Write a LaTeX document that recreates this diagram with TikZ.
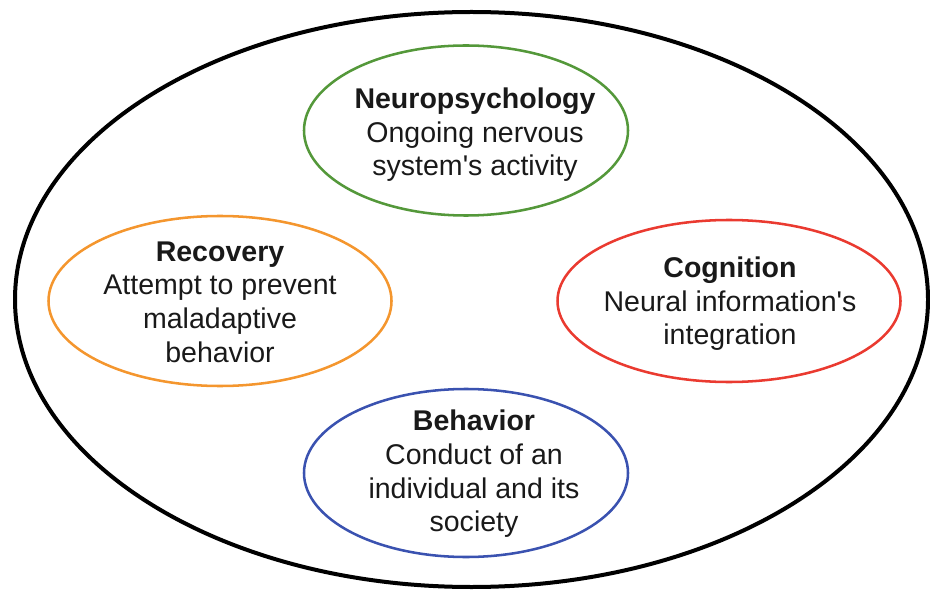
\documentclass[tikz,border=0pt]{standalone}
\usepackage{fontspec}
\setmainfont{Liberation Sans}

\definecolor{ringgreen}{RGB}{84,152,58}
\definecolor{ringorange}{RGB}{244,150,46}
\definecolor{ringred}{RGB}{234,58,48}
\definecolor{ringblue}{RGB}{58,82,176}

\tikzset{every picture/.style={line width=0.75pt}}
\tikzset{
  ring/.style={line width=1.9pt},
  label text/.style={inner sep=0.75pt, align=center, font=\fontsize{21.4}{25.2}\selectfont, text={rgb,255:red,25;green,25;blue,25}}
}

\begin{document}
\begin{tikzpicture}[x=0.75pt,y=0.75pt,yscale=-1,xscale=1]
    \useasboundingbox (0,0) rectangle (930,591); %diagram is 930 wide and 591 high

    %Shape: Ellipse (outer)
    \draw [color=black, line width=3pt] (471.5,299.5) ellipse [x radius=456.5, y radius=287.5];
    %Shape: Ellipse (top)
    \draw [ring, color=ringgreen] (466,130.5) ellipse [x radius=162, y radius=85];
    %Shape: Ellipse (left)
    \draw [ring, color=ringorange] (220,301) ellipse [x radius=171.5, y radius=85];
    %Shape: Ellipse (right)
    \draw [ring, color=ringred] (729,301) ellipse [x radius=171.5, y radius=81];
    %Shape: Ellipse (bottom)
    \draw [ring, color=ringblue] (466,473) ellipse [x radius=162, y radius=84];

    % Text Node
    \draw (475,135) node [label text] (neuro) {\textbf{Neuropsychology}\\Ongoing nervous\\system\textquotesingle s activity};
    % Text Node
    \draw (220,302) node [label text] (recovery) {\textbf{Recovery}\\Attempt to prevent\\maladaptive\\behavior};
    % Text Node
    \draw (730,304) node [label text] (cognition) {\textbf{Cognition}\\Neural information\textquotesingle s\\integration};
    % Text Node
    \draw (474,474) node [label text] (behavior) {\textbf{Behavior}\\Conduct of an\\individual and its\\society};

\end{tikzpicture}
\end{document}
